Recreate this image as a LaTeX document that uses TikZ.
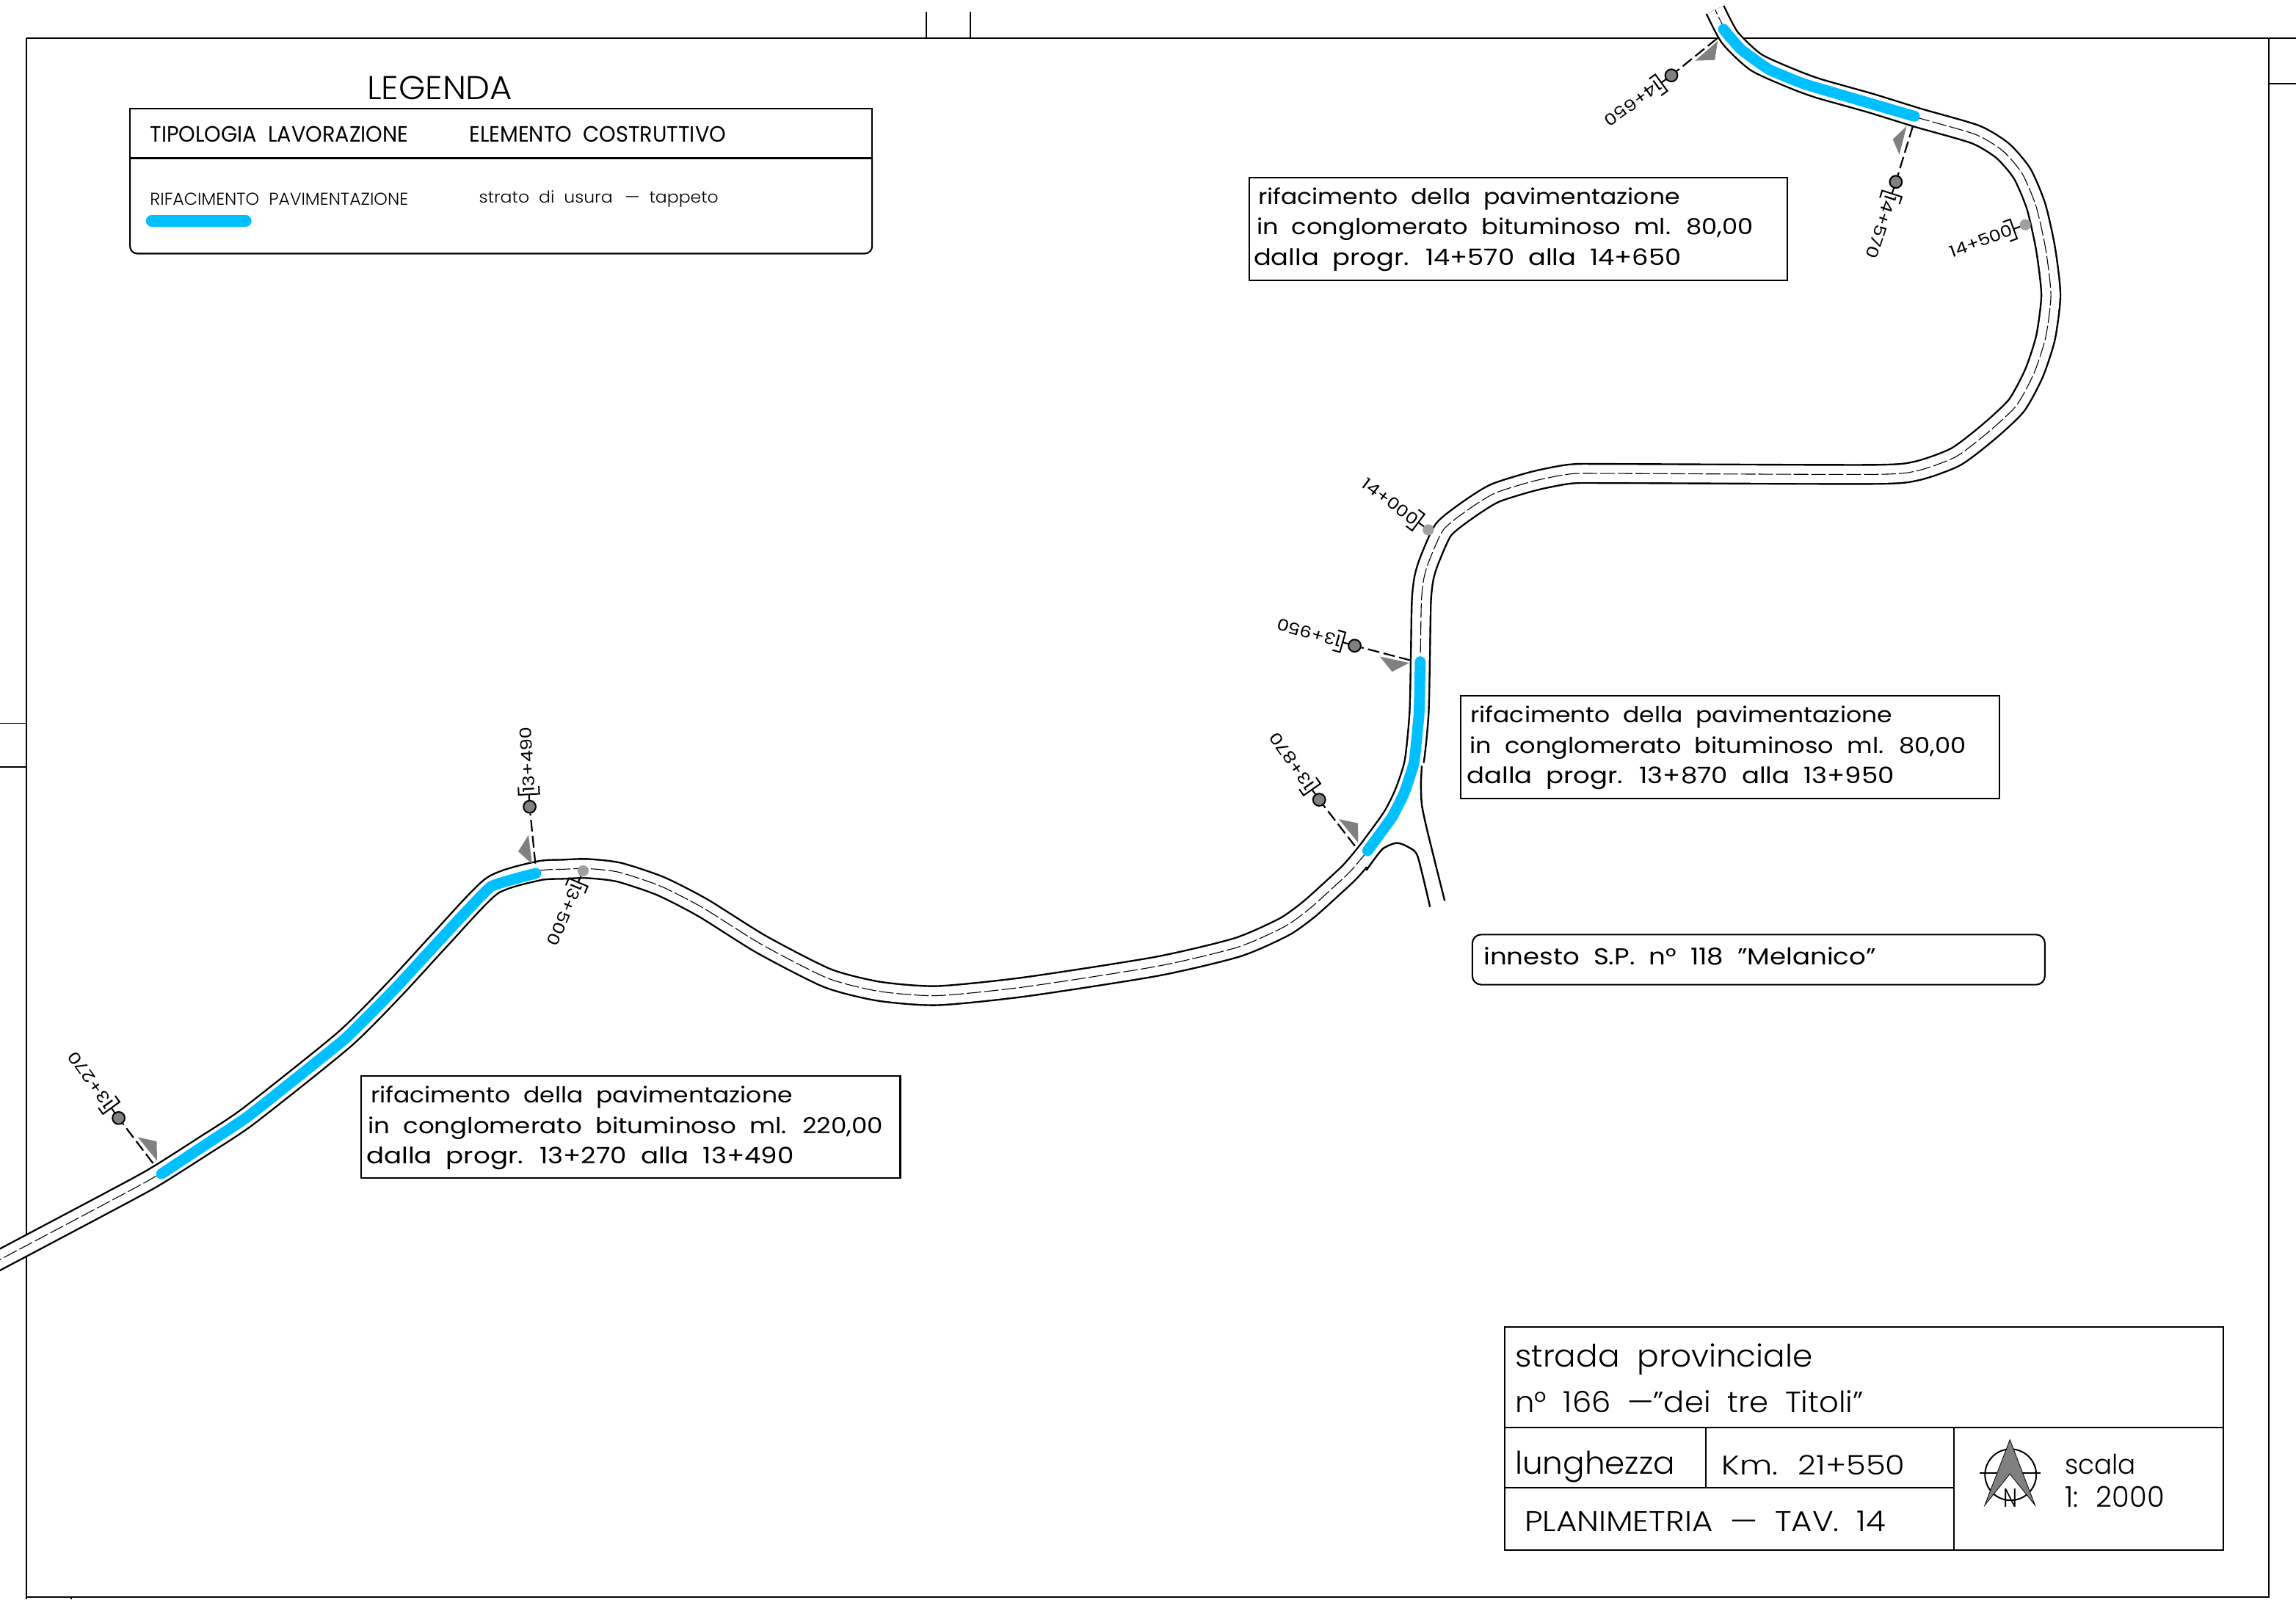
\documentclass[tikz,border=0pt]{standalone}
\usepackage{fontspec}
\usepackage{graphicx}
\setmainfont{Poppins}[WordSpace=2]
\newfontfamily\cad{Poppins Light}[WordSpace=2]
\definecolor{blu}{HTML}{00BFFF}
\definecolor{gry}{HTML}{808080}
\definecolor{gryb}{HTML}{A0A0A0}
\tikzset{
 frameline/.style={line width=1.2pt,black},
 boxline/.style={line width=1.05pt,black},
 tick/.style={line width=0.9pt,black},
 roadaxis/.style={insert path={plot[smooth,tension=0.4] coordinates{
  (-8,864.5)(73.5,821.3)(105.3,804)(140,782)(170,762)(235,710)(270,675)(300.75,641.6)(336,605)(367.6,594.8)(384.3,593.7)(401,593.2)(422.7,595.7)(451.1,605.2)(480,620)(520,645)(565,668)(600,677)(640,680)(700,674)(790,660)(845,647)(877,633)(893.9,621)(910.6,606)(922.3,595)(934,581)(950.7,558)(959,541.5)(965.7,520.7)(969.1,487.4)(970,448)(970.7,410.5)(972.4,395)(976,383)(985.8,361.7)(1002.5,348.2)(1020.9,336.8)(1047.6,328.5)(1072.7,323.7)(1102.8,323.4)(1278,324)(1309,321.6)(1335.6,312)(1358,295)(1377,277)(1389,255)(1397,230.5)(1400.6,201.4)(1397,170)(1390.5,141)(1381,118.6)(1367.7,103)(1349,91.8)(1310.4,80.6)(1277.8,70.5)(1242,60.4)(1223.8,53.7)(1199.2,42.5)(1181.4,25.7)(1171.3,6.7)}}},
 worksec/.style={blu,line width=7.4pt,line cap=round,line join=round},
 lead/.style={line width=1.1pt,dash pattern=on 8pt off 3pt},
 tri/.style={fill=gry,draw=none},
 pkon/.style={circle,draw=black,line width=1pt,fill=gry,minimum size=8.4pt,inner sep=0pt},
 pkoff/.style={circle,fill=gryb,draw=none,minimum size=7.6pt,inner sep=0pt},
}
% name, x, y (baseline left), width, height, text
\newcommand{\lbl}[6]{\node[anchor=base west,inner sep=0pt] (#1) at (#2,#3) {\resizebox{#4pt}{#5pt}{\cad #6}};}
\newcommand{\lbr}[6]{\node[anchor=base west,inner sep=0pt] (#1) at (#2,#3) {\resizebox{#4pt}{#5pt}{#6}};}
% bracket and chainage reading away from the road / toward the road
\newcommand{\brk}{\draw[line width=1pt] (3.8,0) -- (8.5,0) (13.7,-7) -- (8.5,-7) -- (8.5,7) -- (13.7,7);}
\newcommand{\pkout}[5]{\begin{scope}[shift={(#2)},rotate=#3]\brk
 \node[anchor=west,inner sep=0pt,rotate=#3] (#1) at (9.5,0) {\resizebox{#4pt}{8pt}{#5}};\end{scope}}
\newcommand{\pkin}[5]{\begin{scope}[shift={(#2)},rotate=#3]\brk
 \node[anchor=east,inner sep=0pt,rotate=#3+180] (#1) at (9.5,0) {\resizebox{#4pt}{8pt}{#5}};\end{scope}}
\begin{document}
\begin{tikzpicture}[x=1pt,y=-1pt]
\useasboundingbox (0,0) rectangle (1568,1092.3);
\clip (0,0) rectangle (1568,1092.3);
\fill[white] (0,0) rectangle (1568,1092.3);
% frame
\draw[frameline] (1568,26) -- (18,26) (18,26) -- (18,1092.3);
\draw[line width=1pt] (18,1090.8) -- (1549.2,1090.8) -- (1549.2,26);
\draw[tick] (632.5,8) -- (632.5,26) (662.5,8) -- (662.5,26);
\draw[tick] (0,494) -- (18,494) (0,524) -- (18,524);
\draw[tick] (1549.2,57) -- (1568,57);
\draw[tick] (48.5,1090.8) -- (48.5,1092.3);
% road
\draw[black,line width=14.2pt] [roadaxis];
\draw[white,line width=11.8pt] [roadaxis];
\fill[white] (965.7,520.7) -- (973,521) -- (973,550) -- (975,568) -- (954,574) -- (944,579) -- (935,592) -- (925,592) -- (950.7,558) -- (959,541.5) -- cycle;
\draw[black,line width=0.55pt,dash pattern=on 10pt off 2pt] [roadaxis];
\draw[line width=1.2pt,line join=round] plot[smooth,tension=0.4] coordinates{(933,594.5)(944,580)(954,575.7)(962.4,578.9)(968.2,585)(976.6,619.4)};
\draw[line width=1.2pt,line join=round] plot[smooth,tension=0.4] coordinates{(971,523)(970.4,535.2)(971,549.8)(975,568.5)(986.6,615.2)};
% works
\draw[worksec] plot[smooth,tension=0.2] coordinates{(110.3,801.7)(140,782)(170,762)(235,710)(270,675)(300.75,641.6)(335,605.7)(365.9,596.5)};
\draw[worksec] plot[smooth,tension=0.2] coordinates{(969.9,452)(969.1,487.4)(965.7,520.7)(959,541.5)(950.7,558)(934,581)};
\draw[worksec] plot[smooth,tension=0.2] coordinates{(1177,20)(1188.8,33.6)(1208,47.4)(1233.3,57.7)(1307.4,79.4)};
% markers
\coordinate (e1) at (104.5,794.5);
\coordinate (e2) at (365.6,589.8);
\coordinate (e3) at (925.3,577.8);
\coordinate (e4) at (963.2,451);
\coordinate (e5) at (1306.3,86.2);
\coordinate (e6) at (1172.5,26.4);
\node[pkon] (c1) at (81,763.6) {};
\node[pkon] (c2) at (361.7,551) {};
\node[pkon] (c3) at (900.9,546.2) {};
\node[pkon] (c4) at (925.1,441) {};
\node[pkon] (c5) at (1294.7,124.2) {};
\node[pkon] (c6) at (1141.4,51.5) {};
\node[pkoff] (c7) at (398.2,594.8) {};
\node[pkoff] (c8) at (975.4,361.9) {};
\node[pkoff] (c9) at (1383.1,153.5) {};
\draw[lead] (e1) -- (c1);
\draw[lead] (e2) -- (c2);
\draw[lead] (e3) -- (c3);
\draw[lead] (e4) -- (c4);
\draw[lead] (e5) -- (c5);
\draw[lead] (e6) -- (c6);
\fill[tri] (94.1,776.7) -- (107,779.5) -- (107.3,792.9) -- cycle;
\fill[tri] (360.9,570.3) -- (353.9,581.5) -- (363.4,590.2) -- cycle;
\fill[tri] (914.3,559.5) -- (927.3,562.2) -- (927.6,575.7) -- cycle;
\fill[tri] (942.3,448.4) -- (962.4,452.7) -- (950.7,458.8) -- cycle;
\fill[tri] (1302.1,86.2) -- (1292.6,95.1) -- (1297.1,105.6) -- cycle;
\fill[tri] (1173.1,28) -- (1157.7,41.4) -- (1171,41) -- cycle;
\pkout{p1}{c1}{126}{45}{13+270}
\pkout{p2}{c2}{93}{45}{13+490}
\pkout{p3}{c3}{125}{45}{13+870}
\pkout{p4}{c4}{164}{45}{13+950}
\pkout{p5}{c5}{252}{45}{14+570}
\pkout{p6}{c6}{216}{45}{14+650}
\pkout{p7}{c7}{247}{45}{13+500}
\pkin{p8}{c8}{143}{45}{14+000}
\pkin{p9}{c9}{200}{45}{14+500}
% legend
\draw[boxline,rounded corners=5pt] (88.8,108.2) -- (88.8,173.2) -- (595.6,173.2) -- (595.6,108.2);
\draw[boxline] (88.8,108.2) -- (88.8,74) -- (595.6,74) -- (595.6,108.2);
\draw[line width=1.4pt] (88.8,108.2) -- (595.6,108.2);
\lbl{lg}{250.5}{67.7}{99.3}{15.9}{LEGENDA}
\lbr{lh1}{102.3}{97.2}{176.3}{10.7}{TIPOLOGIA LAVORAZIONE}
\lbr{lh2}{320.3}{97.2}{175.3}{10.7}{ELEMENTO COSTRUTTIVO}
\lbl{lr1}{102.3}{140.3}{176.3}{8.3}{RIFACIMENTO PAVIMENTAZIONE}
\lbl{lr2}{327}{138.6}{163.5}{8.4}{strato di usura \,— tappeto}
\draw[blu,line width=7.7pt,line cap=round] (103.5,150.9) -- (167.9,150.9);
% callouts
\draw[boxline] (853,121.3) rectangle (1220.8,191.6);
\lbr{a1}{859}{139.6}{288}{11.4}{rifacimento della pavimentazione}
\lbr{a2}{858}{160.3}{339}{11.4}{in conglomerato bituminoso ml. 80,00}
\lbr{a3}{856}{181.1}{292}{11.4}{dalla progr. 14+570 alla 14+650}
\draw[boxline] (997.5,475.4) rectangle (1365.5,545.6);
\lbr{b1}{1004}{493.7}{288}{11.4}{rifacimento della pavimentazione}
\lbr{b2}{1003.5}{514.4}{339}{11.4}{in conglomerato bituminoso ml. 80,00}
\lbr{b3}{1001.5}{535.2}{292}{11.4}{dalla progr. 13+870 alla 13+950}
\draw[boxline] (246.8,734.8) rectangle (614.8,804.6);
\lbr{d1}{253}{753.2}{288}{11.4}{rifacimento della pavimentazione}
\lbr{d2}{251}{774}{352}{11.4}{in conglomerato bituminoso ml. 220,00}
\lbr{d3}{250}{794.7}{292}{11.4}{dalla progr. 13+270 alla 13+490}
\draw[boxline,rounded corners=6pt] (1005.5,638.3) rectangle (1396.5,672.5);
\lbr{i1}{1013}{659}{268}{12}{innesto S.P. n° 118 ”Melanico”}
% title block
\draw[boxline] (1027.7,906.5) rectangle (1518.2,1058.5);
\draw[boxline] (1027.7,975) -- (1518.2,975);
\draw[boxline] (1027.7,1016) -- (1334.6,1016);
\draw[boxline] (1334.6,975) -- (1334.6,1058.5);
\draw[boxline] (1164.8,975) -- (1164.8,1016);
\lbl{t1}{1034.5}{933.5}{203.3}{15.9}{strada provinciale}
\lbl{t2}{1034.5}{964.5}{237.7}{15}{n° 166 —”dei tre Titoli”}
\lbl{t3}{1034.5}{1006.7}{109.2}{15.8}{lunghezza}
\lbl{t4}{1175.6}{1007.2}{125.3}{13.4}{Km. 21+550}
\lbl{t5}{1041}{1045.7}{246.6}{13.9}{PLANIMETRIA — TAV. 14}
\lbl{t6}{1409.9}{1006.7}{48.4}{13.7}{scala}
\lbl{t7}{1409.9}{1029.2}{68}{14.2}{1: 2000}
% north
\draw[line width=1pt] (1373.1,1007.2) circle (17.5);
\draw[line width=1pt] (1352.1,1006.3) -- (1393.5,1006.3);
\fill[gry,draw=black,line width=0.4pt] (1372.6,983.3) -- (1389.8,1028.1) -- (1372.6,1006.7) -- (1355.4,1028.1) -- cycle;
\lbl{nn}{1368.1}{1029.2}{9.5}{12.5}{N}
\end{tikzpicture}
\end{document}
